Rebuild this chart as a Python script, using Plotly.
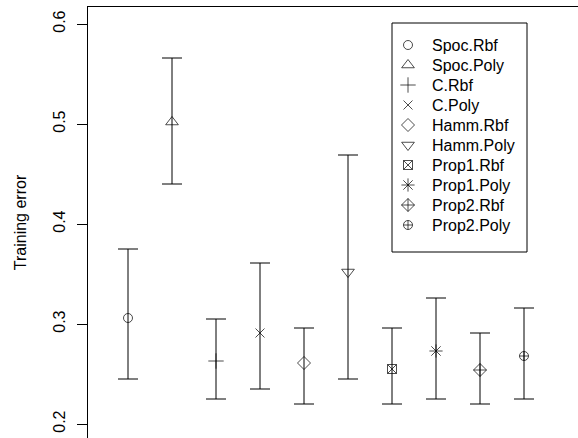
import plotly.graph_objects as go

methods = ["Spoc.Rbf", "Spoc.Poly", "C.Rbf", "C.Poly", "Hamm.Rbf",
           "Hamm.Poly", "Prop1.Rbf", "Prop1.Poly", "Prop2.Rbf", "Prop2.Poly"]
mean_err = [0.306, 0.502, 0.263, 0.291, 0.261, 0.352, 0.255, 0.273, 0.254, 0.268]
upper_err = [0.375, 0.566, 0.305, 0.361, 0.296, 0.469, 0.296, 0.326, 0.291, 0.316]
lower_err = [0.245, 0.440, 0.225, 0.235, 0.220, 0.245, 0.220, 0.225, 0.220, 0.225]
symbols = ["circle-open", "triangle-up-open", "cross-thin-open", "x-thin-open",
           "diamond-open", "triangle-down-open", "square-x-open", "asterisk-open",
           "diamond-cross-open", "circle-cross-open"]
sizes = [9, 11, 11, 9, 10, 11, 9, 11, 10, 9]
y_ticks = [0.2, 0.3, 0.4, 0.5, 0.6]
y_ticktext = ["0.2", "0.3", "0.4", "0.5", "0.6"]

FONT = "Liberation Sans, Arial, Helvetica, sans-serif"
W, H = 578, 438
ML, MT = 88, 7

xs = list(range(1, len(methods) + 1))

fig = go.Figure()
fig.add_trace(go.Scatter(
    x=xs, y=mean_err, mode="markers",
    marker=dict(symbol=symbols, size=sizes, color="black",
                line=dict(color="black", width=1)),
    error_y=dict(type="data", symmetric=False,
                 array=[u - m for u, m in zip(upper_err, mean_err)],
                 arrayminus=[m - l for m, l in zip(mean_err, lower_err)],
                 color="black", thickness=1, width=10),
    showlegend=False, hoverinfo="skip",
))

# manual legend (pixel-like overlay axes)
leg_x_sym = 408
leg_x_txt = 430
leg_y0 = 45
leg_dy = 20
leg_y = [leg_y0 + k * leg_dy for k in range(len(methods))]
fig.add_trace(go.Scatter(
    x=[leg_x_sym] * len(methods), y=leg_y, mode="markers",
    marker=dict(symbol=symbols, size=sizes, color="black",
                line=dict(color="black", width=1)),
    xaxis="x2", yaxis="y2", showlegend=False, hoverinfo="skip",
))
annotations = []
for name, yy in zip(methods, leg_y):
    annotations.append(dict(x=leg_x_txt, y=yy, xref="x2", yref="y2", text=name,
                            showarrow=False, xanchor="left", yanchor="middle",
                            font=dict(family=FONT, size=16, color="black")))

shapes = [dict(type="rect", xref="x2", yref="y2", x0=392, x1=527, y0=23, y1=252,
               line=dict(color="black", width=1), fillcolor="rgba(0,0,0,0)")]

x_lo = (ML - 84) / 44.0
x_hi = (W - 84) / 44.0

fig.update_layout(
    width=W, height=H,
    margin=dict(l=ML, r=0, t=MT, b=0, pad=0),
    paper_bgcolor="white", plot_bgcolor="white",
    font=dict(family=FONT, size=16, color="black"),
    xaxis=dict(range=[x_lo, x_hi], side="top", showline=True, linecolor="black",
               linewidth=1, showticklabels=False, ticks="", showgrid=False,
               zeroline=False),
    yaxis=dict(range=[0.186, 0.617], showline=True, linecolor="black", linewidth=1,
               ticks="outside", ticklen=10, tickcolor="black", tickwidth=1,
               tickvals=y_ticks, ticktext=y_ticktext, tickangle=-90,
               ticklabelstandoff=6,
               tickfont=dict(family=FONT, size=16, color="black"),
               showgrid=False, zeroline=False,
               title=dict(text="Training error",
                          font=dict(family=FONT, size=16, color="black"),
                          standoff=19)),
    xaxis2=dict(range=[ML, W], overlaying="x", visible=False, showgrid=False),
    yaxis2=dict(range=[H, MT], overlaying="y", visible=False, showgrid=False),
    annotations=annotations,
    shapes=shapes,
)

fig.write_html("out.html")
